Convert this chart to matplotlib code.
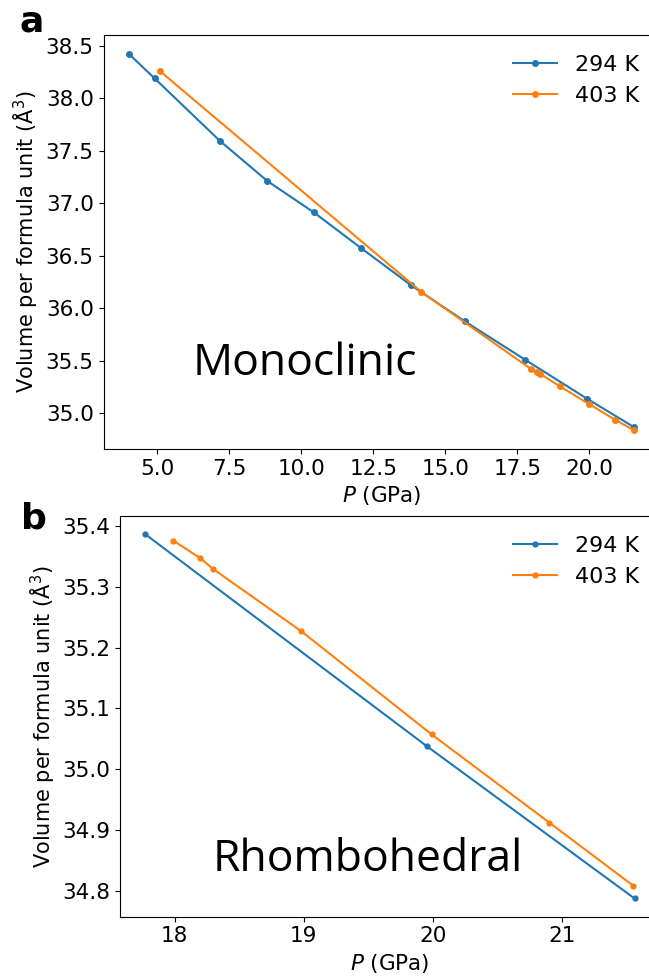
import matplotlib
matplotlib.use("Agg")
import matplotlib.pyplot as plt

# Monoclinic phase: pressure (GPa) and volume per formula unit (A^3)
mono_p_294 = [4.02, 4.92, 7.18, 8.83, 10.43, 12.07, 13.81, 15.67, 17.76, 19.93, 21.55]
mono_v_294 = [38.421, 38.186, 37.592, 37.209, 36.913, 36.573, 36.218, 35.875, 35.510, 35.135, 34.866]
mono_p_403 = [5.09, 14.17, 17.97, 18.20, 18.30, 18.97, 19.98, 20.90, 21.55]
mono_v_403 = [38.259, 36.154, 35.421, 35.390, 35.373, 35.256, 35.088, 34.935, 34.837]

# Rhombohedral phase
rhombo_p_294 = [17.77, 19.95, 21.56]
rhombo_v_294 = [35.387, 35.038, 34.787]
rhombo_p_403 = [17.99, 18.20, 18.30, 18.98, 19.99, 20.90, 21.55]
rhombo_v_403 = [35.376, 35.347, 35.329, 35.227, 35.057, 34.912, 34.808]

labels = ["294 K", "403 K"]
colors = ["#1f77b4", "#ff7f0e"]

fs = 15.5
fig = plt.figure(figsize=(6.49, 9.77), dpi=100)
ax1 = fig.add_axes([0.1595, 0.5404, 1.0159 - 0.1595, 0.9642 - 0.5404])
ax2 = fig.add_axes([0.1854, 0.0617, 1.0155 - 0.1854, 0.4722 - 0.0617])

ax1.plot(mono_p_294, mono_v_294, marker="o", ms=4, color=colors[0], label=labels[0])
ax1.plot(mono_p_403, mono_v_403, marker="o", ms=4, color=colors[1], label=labels[1])
ax2.plot(rhombo_p_294, rhombo_v_294, marker="o", ms=3.5, color=colors[0], label=labels[0])
ax2.plot(rhombo_p_403, rhombo_v_403, marker="o", ms=3.5, color=colors[1], label=labels[1])

for ax in (ax1, ax2):
    ax.set_xlabel("$P$ (GPa)", fontsize=fs)
    ax.set_ylabel("Volume per formula unit (Å$^3$)", fontsize=15)
    ax.tick_params(labelsize=fs)
    ax.legend(fontsize=16, frameon=False, loc="upper right")

ax1.set_yticks([35.0, 35.5, 36.0, 36.5, 37.0, 37.5, 38.0, 38.5])
ax1.set_xticks([5.0, 7.5, 10.0, 12.5, 15.0, 17.5, 20.0])
ax2.set_xticks([18, 19, 20, 21])

ax1.text(0.3625, 0.205, "Monoclinic", transform=ax1.transAxes, ha="center", va="center",
         fontsize=32, family="Open Sans")
ax2.text(0.46, 0.141, "Rhombohedral", transform=ax2.transAxes, ha="center", va="center",
         fontsize=32, family="Open Sans")

fig.text(0.03, 0.995, "a", fontsize=26, fontweight="bold", va="top")
fig.text(0.033, 0.487, "b", fontsize=26, fontweight="bold", va="top")

fig.savefig("out.png", dpi=100)
